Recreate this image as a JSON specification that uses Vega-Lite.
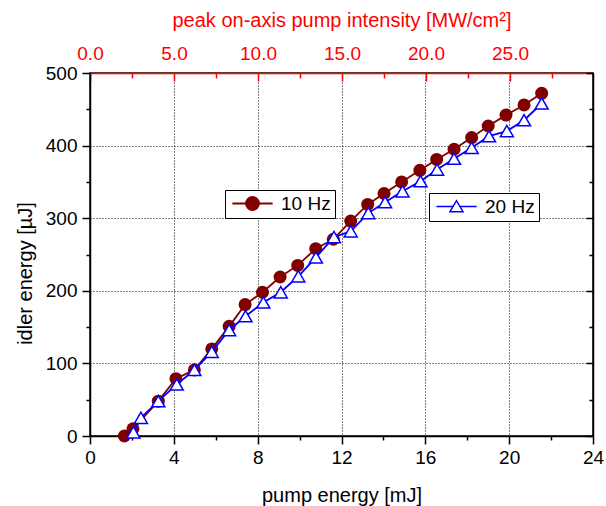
{
  "$schema": "https://vega.github.io/schema/vega-lite/v6.json",
  "width": 503,
  "height": 363,
  "autosize": "none",
  "padding": {"left": 90, "top": 73, "right": 13, "bottom": 70},
  "background": "white",
  "config": {
    "font": "Liberation Sans",
    "view": {"stroke": "#000", "strokeWidth": 1.5},
    "axis": {"labelFont": "Liberation Sans", "titleFont": "Liberation Sans", "labelFontSize": 19, "titleFontSize": 20, "titleFontWeight": "normal", "labelOverlap": false, "labelFlush": false, "domainWidth": 1.5, "tickWidth": 1.5},
    "legend": {"labelFont": "Liberation Sans"}
  },
  "data": {
    "values": [
      {"rate": "10 Hz", "E": 1.64, "I": 0},
      {"rate": "10 Hz", "E": 2.05, "I": 10},
      {"rate": "10 Hz", "E": 3.26, "I": 48},
      {"rate": "10 Hz", "E": 4.10, "I": 79},
      {"rate": "10 Hz", "E": 4.98, "I": 91},
      {"rate": "10 Hz", "E": 5.81, "I": 120},
      {"rate": "10 Hz", "E": 6.64, "I": 151},
      {"rate": "10 Hz", "E": 7.40, "I": 181},
      {"rate": "10 Hz", "E": 8.23, "I": 198},
      {"rate": "10 Hz", "E": 9.07, "I": 219},
      {"rate": "10 Hz", "E": 9.91, "I": 235},
      {"rate": "10 Hz", "E": 10.77, "I": 258},
      {"rate": "10 Hz", "E": 11.61, "I": 271},
      {"rate": "10 Hz", "E": 12.44, "I": 296},
      {"rate": "10 Hz", "E": 13.25, "I": 319},
      {"rate": "10 Hz", "E": 14.03, "I": 334},
      {"rate": "10 Hz", "E": 14.87, "I": 350},
      {"rate": "10 Hz", "E": 15.74, "I": 366},
      {"rate": "10 Hz", "E": 16.54, "I": 381},
      {"rate": "10 Hz", "E": 17.37, "I": 395},
      {"rate": "10 Hz", "E": 18.21, "I": 411},
      {"rate": "10 Hz", "E": 19.00, "I": 427},
      {"rate": "10 Hz", "E": 19.85, "I": 442},
      {"rate": "10 Hz", "E": 20.71, "I": 456},
      {"rate": "10 Hz", "E": 21.55, "I": 472},
      {"rate": "20 Hz", "E": 2.07, "I": 5},
      {"rate": "20 Hz", "E": 2.43, "I": 25},
      {"rate": "20 Hz", "E": 3.26, "I": 48},
      {"rate": "20 Hz", "E": 4.14, "I": 71},
      {"rate": "20 Hz", "E": 4.98, "I": 91},
      {"rate": "20 Hz", "E": 5.81, "I": 116},
      {"rate": "20 Hz", "E": 6.64, "I": 146},
      {"rate": "20 Hz", "E": 7.42, "I": 165},
      {"rate": "20 Hz", "E": 8.27, "I": 184},
      {"rate": "20 Hz", "E": 9.10, "I": 198},
      {"rate": "20 Hz", "E": 9.94, "I": 220},
      {"rate": "20 Hz", "E": 10.78, "I": 246},
      {"rate": "20 Hz", "E": 11.64, "I": 274},
      {"rate": "20 Hz", "E": 12.44, "I": 282},
      {"rate": "20 Hz", "E": 13.28, "I": 307},
      {"rate": "20 Hz", "E": 14.08, "I": 322},
      {"rate": "20 Hz", "E": 14.91, "I": 337},
      {"rate": "20 Hz", "E": 15.77, "I": 351},
      {"rate": "20 Hz", "E": 16.56, "I": 367},
      {"rate": "20 Hz", "E": 17.37, "I": 382},
      {"rate": "20 Hz", "E": 18.21, "I": 397},
      {"rate": "20 Hz", "E": 19.04, "I": 413},
      {"rate": "20 Hz", "E": 19.89, "I": 420},
      {"rate": "20 Hz", "E": 20.71, "I": 435},
      {"rate": "20 Hz", "E": 21.55, "I": 458}
    ]
  },
  "resolve": {
    "scale": {"x": "independent", "y": "independent", "color": "independent", "stroke": "independent"},
    "axis": {"x": "independent", "y": "independent"},
    "legend": {"color": "independent", "stroke": "independent"}
  },
  "layer": [
    {
      "transform": [{"filter": "datum.rate === '10 Hz'"}],
      "mark": {"type": "line", "color": "#800000", "strokeWidth": 1.8},
      "encoding": {
        "x": {"field": "E", "type": "quantitative", "scale": {"domain": [0, 24], "nice": false, "zero": false},
          "axis": {"orient": "bottom", "values": [0,2,4,6,8,10,12,14,16,18,20,22,24],
            "labelExpr": "datum.value % 4 === 0 ? datum.label : ''",
            "tickSize": {"condition": {"test": "datum.value % 4 === 0", "value": 8}, "value": 4},
            "labelPadding": 4,
            "grid": true, "gridColor": "#000", "gridDash": [1, 2], "gridWidth": 1,
            "gridOpacity": {"condition": {"test": "datum.value % 4 === 0 && datum.value > 0 && datum.value < 24", "value": 1}, "value": 0},
            "domainColor": "#000", "tickColor": "#000", "labelColor": "#000", "titleColor": "#000",
            "title": "pump energy [mJ]", "titleY": 59, "titleBaseline": "middle"}},
        "y": {"field": "I", "type": "quantitative", "scale": {"domain": [0, 500], "nice": false},
          "axis": {"orient": "left", "values": [0,50,100,150,200,250,300,350,400,450,500],
            "labelExpr": "datum.value % 100 === 0 ? datum.label : ''",
            "tickSize": {"condition": {"test": "datum.value % 100 === 0", "value": 8}, "value": 4},
            "labelPadding": 5,
            "grid": true, "gridColor": "#000", "gridDash": [1, 2], "gridWidth": 1,
            "gridOpacity": {"condition": {"test": "datum.value % 100 === 0 && datum.value > 0 && datum.value < 500", "value": 1}, "value": 0},
            "domainColor": "#000", "tickColor": "#000", "labelColor": "#000", "titleColor": "#000",
            "title": "idler energy [µJ]", "titleX": -65, "titleY": 200, "titleAngle": -90, "titleAlign": "center", "titleBaseline": "middle"}}
      }
    },
    {
      "transform": [{"filter": "datum.rate === '10 Hz'"}],
      "mark": {"type": "point", "shape": "circle", "filled": true, "size": 169, "opacity": 1},
      "encoding": {
        "x": {"field": "E", "type": "quantitative", "scale": {"domain": [0, 24], "nice": false, "zero": false}, "axis": null},
        "y": {"field": "I", "type": "quantitative", "scale": {"domain": [0, 500], "nice": false}, "axis": null},
        "color": {"datum": "10 Hz", "scale": {"domain": ["10 Hz"], "range": ["#800000"]},
          "legend": {"orient": "none", "legendX": 135, "legendY": 117, "title": null,
            "symbolType": "M-3.1,0H-1M1,0H3.1M1,0A1,1 0 1,1 -1,0A1,1 0 1,1 1,0Z",
            "symbolSize": 169, "symbolOffset": 14, "labelOffset": 19,
            "symbolStrokeColor": "#800000", "symbolFillColor": "#800000", "symbolStrokeWidth": 1.8,
            "labelFontSize": 19, "labelColor": "#000", "strokeColor": "#000", "fillColor": "#fff", "padding": 4,
            "encode": {"symbols": {"update": {"fill": {"value": "#800000"}, "stroke": {"value": "#800000"}, "strokeWidth": {"value": 1.8}, "opacity": {"value": 1}}}}}}
      }
    },
    {
      "transform": [{"filter": "datum.rate === '20 Hz'"}],
      "mark": {"type": "line", "color": "#0000ff", "strokeWidth": 1.8},
      "encoding": {
        "x": {"field": "E", "type": "quantitative", "scale": {"domain": [0, 24], "nice": false, "zero": false}, "axis": null},
        "y": {"field": "I", "type": "quantitative", "scale": {"domain": [0, 500], "nice": false}, "axis": null}
      }
    },
    {
      "transform": [{"filter": "datum.rate === '20 Hz'"}],
      "mark": {"type": "point", "shape": "triangle-up", "filled": true, "fill": "#ffffff", "size": 169, "strokeWidth": 1.5, "opacity": 1},
      "encoding": {
        "x": {"field": "E", "type": "quantitative", "scale": {"domain": [0, 24], "nice": false, "zero": false}, "axis": null},
        "y": {"field": "I", "type": "quantitative", "scale": {"domain": [0, 500], "nice": false}, "axis": null},
        "stroke": {"datum": "20 Hz", "scale": {"domain": ["20 Hz"], "range": ["#0000ff"]},
          "legend": {"orient": "none", "legendX": 339, "legendY": 120, "title": null,
            "symbolType": "M-3.1,0H-0.53M0.53,0H3.1M-1,0.8L0,-0.9L1,0.8Z",
            "symbolSize": 169, "symbolOffset": 14, "labelOffset": 19,
            "labelFontSize": 19, "labelColor": "#000", "strokeColor": "#000", "fillColor": "#fff", "padding": 4,
            "encode": {"symbols": {"update": {"fill": {"value": "#ffffff"}, "stroke": {"value": "#0000ff"}, "strokeWidth": {"value": 1.5}, "opacity": {"value": 1}}}}}}
      }
    },
    {
      "mark": {"type": "point", "opacity": 0},
      "encoding": {
        "x": {"field": "E", "type": "quantitative", "scale": {"domain": [0, 29.94], "nice": false, "zero": false},
          "axis": {"orient": "top", "values": [0,2.5,5,7.5,10,12.5,15,17.5,20,22.5,25,27.5],
            "labelExpr": "datum.value % 5 === 0 ? format(datum.value, '.1f') : ''",
            "tickSize": {"condition": {"test": "datum.value % 5 === 0", "value": -8}, "value": -5},
            "labelPadding": 18,
            "grid": false, "domainColor": "#ff0000", "tickColor": "#ff0000", "labelColor": "#ff0000", "titleColor": "#ff0000",
            "title": "peak on-axis pump intensity [MW/cm²]", "titleY": -53, "titleBaseline": "middle"}},
        "y": {"field": "I", "type": "quantitative", "scale": {"domain": [0, 500], "nice": false},
          "axis": {"orient": "right", "values": [0,50,100,150,200,250,300,350,400,450,500],
            "labels": false, "title": null, "grid": false,
            "tickSize": {"condition": {"test": "datum.value % 100 === 0", "value": -7}, "value": -4},
            "domainColor": "#000", "tickColor": "#000"}}
      }
    }
  ]
}
